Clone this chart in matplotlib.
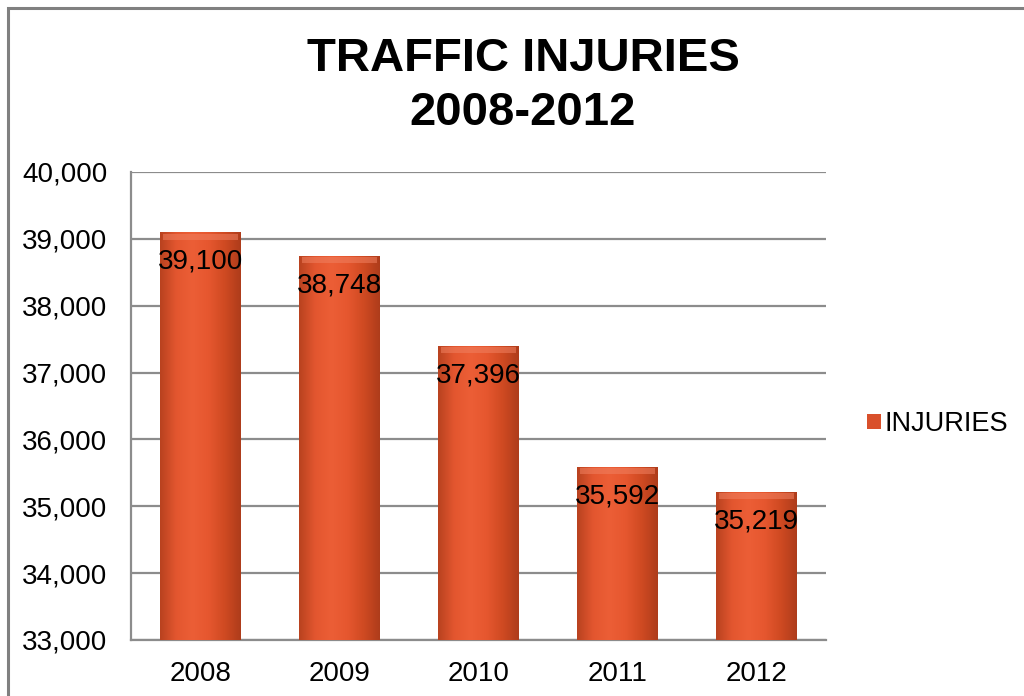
import numpy as np
import matplotlib.pyplot as plt
from matplotlib.colors import LinearSegmentedColormap
from matplotlib.patches import Rectangle

plt.rcParams['font.family'] = ['Liberation Sans', 'DejaVu Sans']

years = ["2008", "2009", "2010", "2011", "2012"]
injuries = [39100, 38748, 37396, 35592, 35219]
y_ticks = [33000, 34000, 35000, 36000, 37000, 38000, 39000, 40000]

fig = plt.figure(figsize=(10.24, 6.96), dpi=100)
ax = fig.add_axes([131 / 1024, 1 - 640 / 696, (826 - 131) / 1024, (640 - 172) / 696])

# chart-area outline (runs off the right and bottom edges)
fig.patches.append(Rectangle((7.5 / 1024, -0.05), 1.1, 1 - 8 / 696 + 0.05,
                             transform=fig.transFigure, fill=False,
                             edgecolor="#808080", linewidth=2.2, zorder=0))

x = np.arange(len(years))
bars = ax.bar(x, injuries, width=0.58, color="#D9502B", edgecolor="none", zorder=2,
              label="INJURIES")

# shaded fill: darker edges, brighter centre
shade = LinearSegmentedColormap.from_list(
    "shade", ["#B8421F", "#E3562F", "#EC5E36", "#E6572F", "#CF4A22", "#AE3C1B"])
grad = np.linspace(0, 1, 256).reshape(1, -1)
for b in bars:
    x0, w, h = b.get_x(), b.get_width(), b.get_height()
    im = ax.imshow(grad, cmap=shade, aspect="auto", zorder=3,
                   extent=[x0, x0 + w, 33000, h], interpolation="bicubic")
    im.set_clip_path(b)
    # light bevel along the top
    ax.add_patch(Rectangle((x0 + w * 0.04, h - 110), w * 0.92, 90,
                           facecolor="#F08060", alpha=0.55, edgecolor="none", zorder=4))

for xi, v in zip(x, injuries):
    ax.annotate(f"{v:,}", (xi, v), xytext=(0, -12), textcoords="offset points",
                ha="center", va="top", fontsize=20, color="black", zorder=5)

ax.set_xlim(-0.5, len(years) - 0.5)
ax.set_ylim(33000, 40000)
ax.set_xticks(x)
ax.set_xticklabels(years)
ax.set_yticks(y_ticks)
ax.set_yticklabels([f"{t:,}" for t in y_ticks])
ax.tick_params(axis="both", length=0, labelsize=20, colors="black")
ax.tick_params(axis="y", pad=17)
ax.tick_params(axis="x", pad=15)
ax.yaxis.grid(True, color="#8C8C8C", linewidth=1.6, zorder=1)
ax.set_axisbelow(True)
for side in ["top", "right"]:
    ax.spines[side].set_visible(False)
for side in ["left", "bottom"]:
    ax.spines[side].set_color("#8C8C8C")
    ax.spines[side].set_linewidth(1.6)

fig.text(523 / 1024, 1 - 86 / 696, "TRAFFIC INJURIES\n2008-2012", ha="center", va="center",
         fontsize=34, fontweight="bold", linespacing=1.3)

leg = fig.legend(handles=[bars], labels=["INJURIES"], loc="center left",
                 bbox_to_anchor=(867 / 1024, 1 - 424 / 696), frameon=False, fontsize=19.5,
                 handlelength=0.5, handleheight=0.5, handletextpad=0.15,
                 borderaxespad=0, borderpad=0)

fig.savefig("out.png", dpi=100)
